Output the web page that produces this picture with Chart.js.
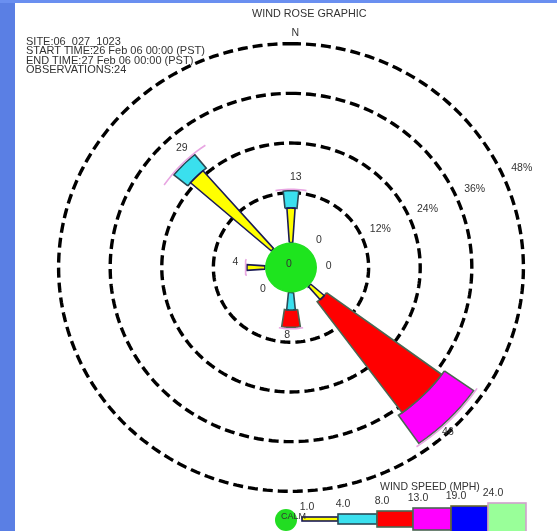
<!DOCTYPE html>
<html><head><meta charset="utf-8">
<script src="https://cdn.jsdelivr.net/npm/chart.js@4/dist/chart.umd.min.js"></script>
<style>
html,body{margin:0;padding:0;background:#fff;width:557px;height:531px;overflow:hidden;}
#bgL{position:absolute;left:0;top:0;width:15px;height:531px;background:#5a7fe4;}
#bgT{position:absolute;left:0;top:0;width:557px;height:3px;background:#6a8ff0;}
#wrap{position:absolute;left:0;top:0;width:557px;height:531px;}
.t{position:absolute;font-family:"Liberation Sans",Arial,sans-serif;color:#333;white-space:nowrap;}
#info div{height:9.3px;line-height:9.3px;}
</style></head><body>
<div id="bgL"></div><div id="bgT"></div>
<div id="wrap"><canvas id="c" width="557" height="531"></canvas></div>
<div class="t" id="title" style="left:252px;top:7px;font-size:10.8px"></div>
<div class="t" id="info" style="left:26px;top:37px;font-size:11px"></div>
<script>
// ---- data ----
const chartTitle = 'WIND ROSE GRAPHIC';
const infoLines = ['SITE:06_027_1023','START TIME:26 Feb 06 00:00 (PST)','END TIME:27 Feb 06 00:00 (PST)','OBSERVATIONS:24'];
const directions = ['N','NE','E','SE','S','SW','W','NW'];
const bearings = [0,45,90,135,180,225,270,315];
const speedBins = ['1.0','4.0','8.0','13.0','19.0','24.0'];
// percent of observations by speed class for each direction
const spd1to4   = [8.3, 0, 0, 4.2, 0,   0, 4.2, 25.0];
const spd4to8   = [4.2, 0, 0, 0,   4.2, 0, 0,   4.2];
const spd8to13  = [0,   0, 0, 33.3,4.2, 0, 0,   0];
const spd13to19 = [0,   0, 0, 8.3, 0,   0, 0,   0];
const spd19to24 = [0,   0, 0, 0,   0,   0, 0,   0];
const spd24up   = [0,   0, 0, 0,   0,   0, 0,   0];
const totalLabels = [13, 0, 0, 46, 8, 0, 4, 29];
const calmPct = 0;
const ringValues = [12, 24, 36, 48];
const ringLabels = ['12%','24%','36%','48%'];

// ---- style ----
const classes = [spd1to4, spd4to8, spd8to13, spd13to19, spd19to24, spd24up];
const fillColors = ['#ffff00','#3ae0ee','#ff0000','#ff00ff','#0000ff','#99ff99'];
const edgeColors = ['#1a1a55','#2a4a55','#4a6652','#4a6652','#6a6a30','#d0a0cc'];
const halfAngles = [3.8, 5.6, 8.6, 10, 11, 12];
const OFF = 6.05;
const FONT = '"Liberation Sans", Arial, sans-serif';

document.getElementById('title').textContent = chartTitle;
document.getElementById('info').innerHTML = infoLines.map(s => '<div>' + s + '</div>').join('');

function xy(b, r){ const a = b*Math.PI/180; return {x: r*Math.sin(a), y: r*Math.cos(a)}; }
function circle(r, n){ const p=[]; for(let i=0;i<=n;i++) p.push(xy(360*i/n, r)); return p; }
function wedge(b, h, p0, p1){
  const pts=[]; const n=8;
  for(let i=0;i<=n;i++) pts.push(xy(b-h+2*h*i/n, p0+OFF));
  for(let i=0;i<=n;i++) pts.push(xy(b+h-2*h*i/n, p1+OFF));
  pts.push(pts[0]);
  return pts;
}
function arc(b, h, r){ const pts=[]; const n=10; for(let i=0;i<=n;i++) pts.push(xy(b-h+2*h*i/n, r)); return pts; }

const base = {showLine:true, pointRadius:0, pointHoverRadius:0, tension:0};
const datasets = [];
ringValues.forEach(v => datasets.push(Object.assign({}, base, {
  data: circle(v+OFF, 240), borderColor:'#000', borderWidth:3.4, borderDash:[10,5], fill:false, order:30
})));
const totals = directions.map((d,i) => classes.reduce((s,c) => s + c[i], 0));
directions.forEach((d,i) => {
  let cum = 0;
  classes.forEach((c,k) => {
    if (c[i] > 0) {
      datasets.push(Object.assign({}, base, {
        data: wedge(bearings[i], halfAngles[k], cum, cum + c[i]),
        backgroundColor: fillColors[k], borderColor: edgeColors[k], borderWidth: 1.6,
        fill: 'shape', order: 20
      }));
      cum += c[i];
    }
  });
  if (totals[i] > 0) {
    datasets.push(Object.assign({}, base, {
      data: arc(bearings[i], 11, totals[i]+OFF+0.35), borderColor:'#e8a6e2', borderWidth:1.6, fill:false, order:19
    }));
  }
});
datasets.push(Object.assign({}, base, {
  data: circle(OFF*0.97 + calmPct, 36), backgroundColor:'#1ee41e', borderColor:'#22e022', borderWidth:1.5, fill:'shape', order:10
}));

const labelsPlugin = {
  id: 'roseLabels',
  afterDatasetsDraw(chart){
    const ctx = chart.ctx, xs = chart.scales.x, ys = chart.scales.y;
    const P = p => [xs.getPixelForValue(p.x), ys.getPixelForValue(p.y)];
    ctx.save();
    ctx.fillStyle = '#333';
    ctx.font = '10.5px ' + FONT;
    ctx.textAlign = 'center'; ctx.textBaseline = 'middle';
    // petal totals
    directions.forEach((d,i) => {
      const [x,y] = P(xy(bearings[i] + 3, totals[i] + OFF + 2.7));
      ctx.fillText(String(totalLabels[i]), x, y - 3);
    });
    // calm
    const [cx, cy] = P({x:0,y:0});
    ctx.fillText(String(calmPct), cx - 2, cy - 3);
    // ring labels
    ringValues.forEach((v,k) => {
      const [x,y] = P(xy(66, v + OFF + 4.7));
      ctx.fillText(ringLabels[k], x, y);
    });
    // north
    const [nx, ny] = P(xy(1, ringValues[ringValues.length-1] + OFF + 2.6));
    ctx.fillText(directions[0], nx, ny);

    // legend
    const edges = [302,338,377,413,451,488,526];
    const half = [2,5,8,11,13,16];
    const midY = 519;
    ctx.beginPath(); ctx.arc(286, 520, 11, 0, 2*Math.PI);
    ctx.fillStyle = '#22dd22'; ctx.fill();
    for (let k=0;k<6;k++){
      const x0 = edges[k], x1 = edges[k+1];
      const top = midY - half[k];
      ctx.fillStyle = fillColors[k];
      ctx.fillRect(x0, top, x1-x0, half[k]*2);
      ctx.lineWidth = 1.6; ctx.strokeStyle = edgeColors[k];
      ctx.strokeRect(x0, top, x1-x0, half[k]*2);
    }
    ctx.fillStyle = '#333';
    ctx.font = '9px ' + FONT; ctx.textAlign = 'left'; ctx.textBaseline = 'alphabetic';
    ctx.fillText('CALM', 281, 519);
    ctx.font = '10.5px ' + FONT; ctx.textAlign = 'center';
    speedBins.forEach((s,k) => {
      ctx.fillText(s, edges[k] + 5, midY - half[k] - 7);
    });
    ctx.textAlign = 'left';
    ctx.fillText('WIND SPEED (MPH)', 380, 490);
    ctx.restore();
  }
};

new Chart(document.getElementById('c'), {
  type: 'scatter',
  data: { datasets },
  options: {
    responsive: false, animation: false, events: [],
    layout: { padding: { left: 33, right: 8, top: 19, bottom: 15 } },
    scales: {
      x: { type:'linear', min:-60, max:60, display:false },
      y: { type:'linear', min:-60, max:60, display:false }
    },
    plugins: { legend:{display:false}, tooltip:{enabled:false}, title:{display:false} }
  },
  plugins: [labelsPlugin]
});
</script>
</body></html>
